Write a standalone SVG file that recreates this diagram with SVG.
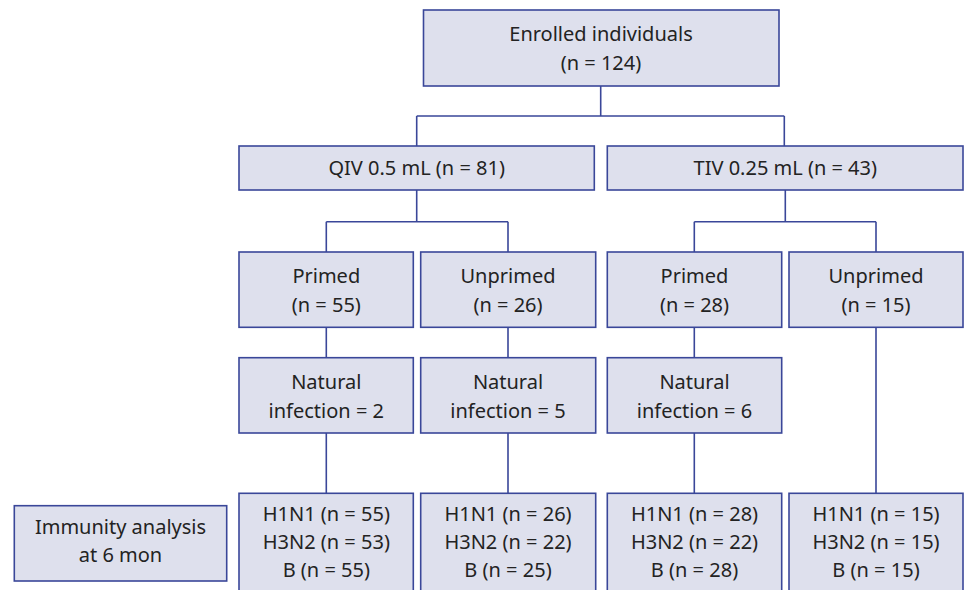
<svg xmlns="http://www.w3.org/2000/svg" width="965" height="590" viewBox="0 0 965 590">
<style>
.box{fill:#dee0ed;stroke:#3a4799;stroke-width:1.6}
.ln{fill:none;stroke:#3a4799;stroke-width:1.6}
text{font-family:"Noto Sans","Open Sans",sans-serif;font-size:20px;fill:#232323;text-anchor:middle}
</style>
<rect width="965" height="590" fill="#ffffff"/>
<g id="connectors">
<path class="ln" d="M600.7,86V116M416.7,116H784.3M416.7,116V146M784.3,116V146"/>
<path class="ln" d="M416.7,190V221.7M326.3,221.7H508M326.3,221.7V252M508,221.7V252"/>
<path class="ln" d="M785.3,190V221.7M694.3,221.7H876M694.3,221.7V252M876,221.7V252"/>
<path class="ln" d="M326.3,327.3V357.7M508,327.3V357.7M694.3,327.3V357.7"/>
<path class="ln" d="M326.3,433V493.3M508,433V493.3M694.3,433V493.3M876,327.3V493.3"/>
</g>
<g id="enrolled"><rect class="box" x="423.5" y="10" width="355.5" height="76"/><text x="601" y="41">Enrolled individuals</text><text x="601" y="69.5">(n = 124)</text></g>
<g id="qiv"><rect class="box" x="239" y="146" width="355.3" height="44"/><text x="416.7" y="175">QIV 0.5 mL (n = 81)</text></g>
<g id="tiv"><rect class="box" x="607.3" y="146" width="355.7" height="44"/><text x="785.3" y="175">TIV 0.25 mL (n = 43)</text></g>
<g id="qiv-primed"><rect class="box" x="239" y="252" width="174.3" height="75.3"/><text x="326.3" y="283">Primed</text><text x="326.3" y="311.5">(n = 55)</text></g>
<g id="qiv-unprimed"><rect class="box" x="420.7" y="252" width="175" height="75.3"/><text x="508" y="283">Unprimed</text><text x="508" y="311.5">(n = 26)</text></g>
<g id="tiv-primed"><rect class="box" x="607.3" y="252" width="174.4" height="75.3"/><text x="694.5" y="283">Primed</text><text x="694.5" y="311.5">(n = 28)</text></g>
<g id="tiv-unprimed"><rect class="box" x="789" y="252" width="174" height="75.3"/><text x="876" y="283">Unprimed</text><text x="876" y="311.5">(n = 15)</text></g>
<g id="qiv-primed-nat"><rect class="box" x="239" y="357.7" width="174.3" height="75.3"/><text x="326.3" y="389">Natural</text><text x="326.3" y="417.5">infection = 2</text></g>
<g id="qiv-unprimed-nat"><rect class="box" x="420.7" y="357.7" width="175" height="75.3"/><text x="508" y="389">Natural</text><text x="508" y="417.5">infection = 5</text></g>
<g id="tiv-primed-nat"><rect class="box" x="607.3" y="357.7" width="174.4" height="75.3"/><text x="694.5" y="389">Natural</text><text x="694.5" y="417.5">infection = 6</text></g>
<g id="immunity"><rect class="box" x="14.3" y="505.7" width="212.4" height="75.3"/><text x="120.5" y="533.5">Immunity analysis</text><text x="120.5" y="562">at 6 mon</text></g>
<g id="res1"><rect class="box" x="239" y="493.3" width="174.3" height="100"/><text x="326.3" y="520.5">H1N1 (n = 55)</text><text x="326.3" y="549">H3N2 (n = 53)</text><text x="326.3" y="577">B (n = 55)</text></g>
<g id="res2"><rect class="box" x="420.7" y="493.3" width="175" height="100"/><text x="508" y="520.5">H1N1 (n = 26)</text><text x="508" y="549">H3N2 (n = 22)</text><text x="508" y="577">B (n = 25)</text></g>
<g id="res3"><rect class="box" x="607.3" y="493.3" width="174.4" height="100"/><text x="694.5" y="520.5">H1N1 (n = 28)</text><text x="694.5" y="549">H3N2 (n = 22)</text><text x="694.5" y="577">B (n = 28)</text></g>
<g id="res4"><rect class="box" x="789" y="493.3" width="174" height="100"/><text x="876" y="520.5">H1N1 (n = 15)</text><text x="876" y="549">H3N2 (n = 15)</text><text x="876" y="577">B (n = 15)</text></g>
</svg>
